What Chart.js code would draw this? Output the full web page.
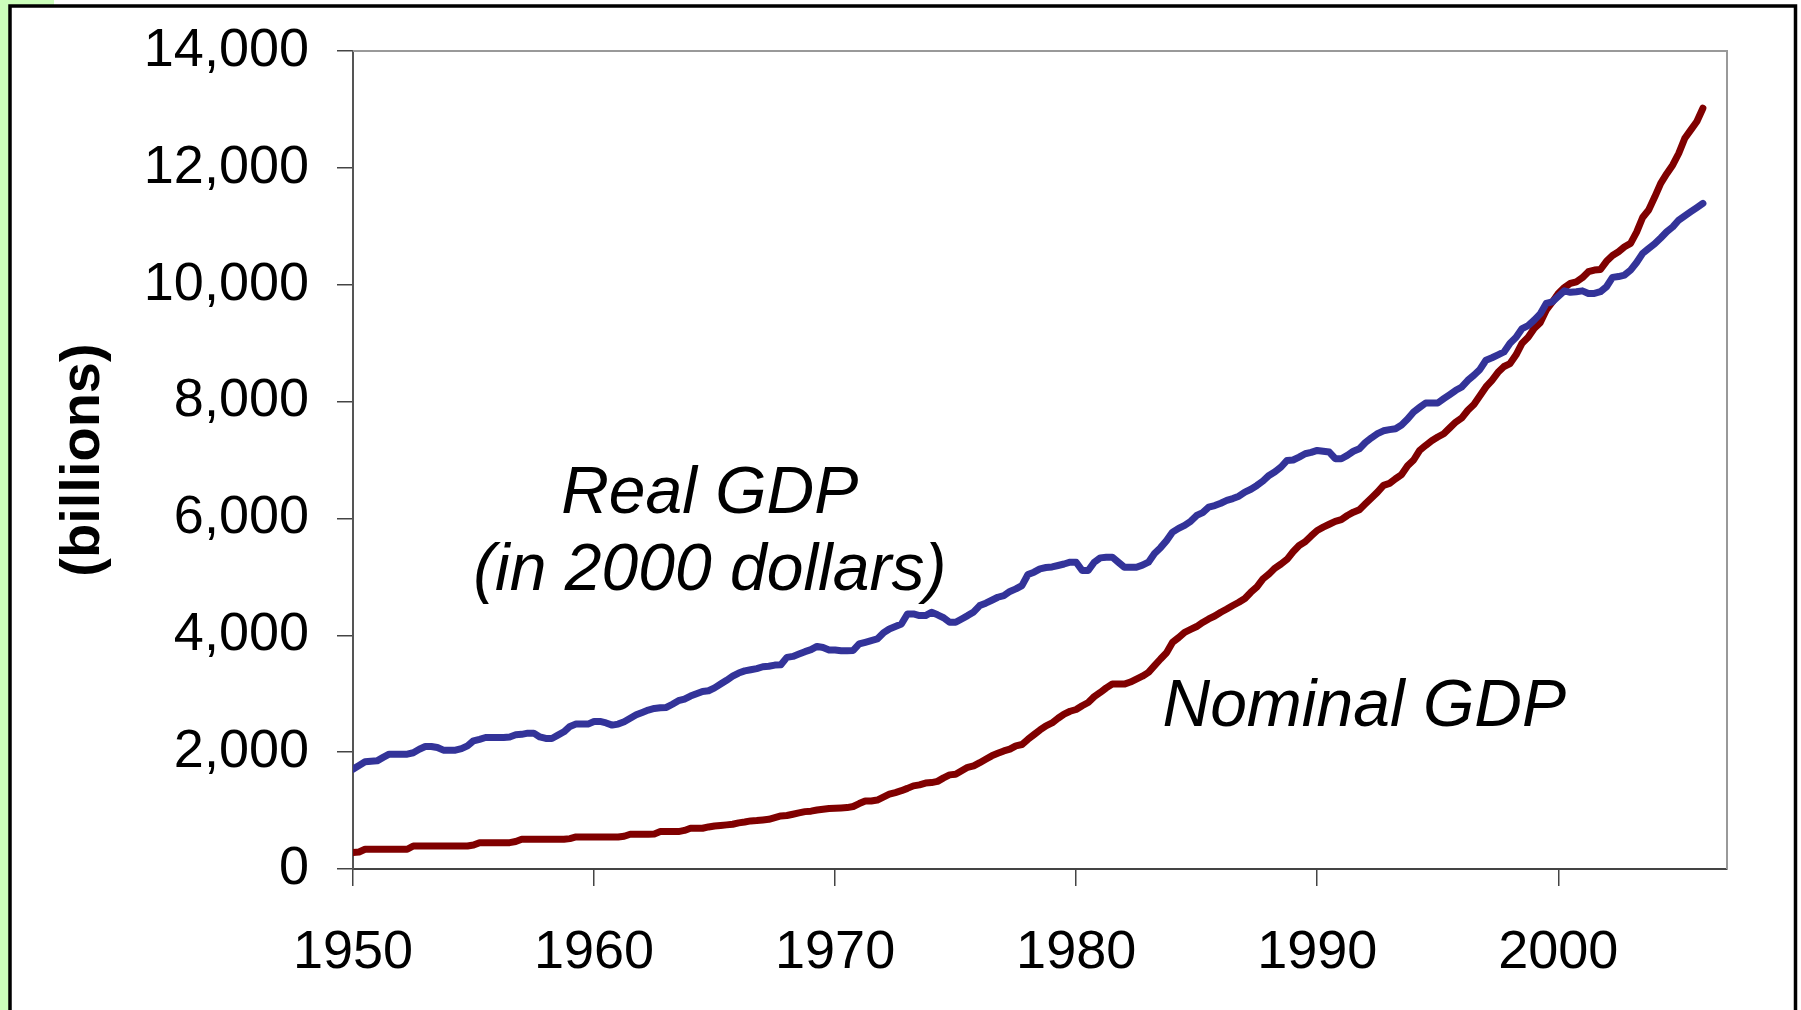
<!DOCTYPE html>
<html>
<head>
<meta charset="utf-8">
<title>Real and Nominal GDP</title>
<script src="https://cdn.jsdelivr.net/npm/chart.js@4.4.1/dist/chart.umd.min.js"></script>
<style>
  html, body { margin: 0; padding: 0; background: #fff; }
</style>
</head>
<body>
<canvas id="gdp" width="1801" height="1010"></canvas>
<script>
// quarterly series, 1950Q1 .. 2006Q1, billions of dollars
var firstYear = 1950;

// real GDP, chained 2000 dollars
var realGdp = [
  1709, 1770, 1834, 1845,   // 1950
  1851, 1910, 1966, 1966,   // 1951
  1966, 1966, 1990, 2050,   // 1952
  2096, 2096, 2080, 2034,   // 1953
  2034, 2034, 2060, 2108,   // 1954
  2194, 2220, 2251, 2251,   // 1955
  2251, 2251, 2260, 2297,   // 1956
  2305, 2325, 2325, 2260,   // 1957
  2234, 2234, 2290, 2348,   // 1958
  2440, 2480, 2480, 2480,   // 1959
  2525, 2525, 2500, 2463,   // 1960
  2480, 2520, 2580, 2640,   // 1961
  2680, 2720, 2748, 2760,   // 1962
  2765, 2820, 2880, 2908,   // 1963
  2960, 3000, 3039, 3051,   // 1964
  3100, 3165, 3230, 3300,   // 1965
  3354, 3390, 3410, 3430,   // 1966
  3462, 3470, 3490, 3497,   // 1967
  3622, 3639, 3680, 3720,   // 1968
  3754, 3810, 3790, 3748,   // 1969
  3748, 3737, 3737, 3740,   // 1970
  3851, 3880, 3910, 3937,   // 1971
  4040, 4108, 4150, 4194,   // 1972
  4365, 4365, 4337, 4337,   // 1973
  4394, 4350, 4300, 4222,   // 1974
  4222, 4280, 4337, 4400,   // 1975
  4508, 4550, 4600, 4651,   // 1976
  4680, 4750, 4794, 4851,   // 1977
  5040, 5080, 5137, 5160,   // 1978
  5170, 5194, 5220, 5251,   // 1979
  5251, 5108, 5108, 5250,   // 1980
  5325, 5337, 5337, 5250,   // 1981
  5165, 5165, 5165, 5200,   // 1982
  5251, 5400, 5500, 5620,   // 1983
  5766, 5830, 5880, 5950,   // 1984
  6051, 6100, 6194, 6220,   // 1985
  6260, 6308, 6340, 6380,   // 1986
  6451, 6500, 6565, 6640,   // 1987
  6736, 6800, 6880, 6993,   // 1988
  7000, 7050, 7107, 7130,   // 1989
  7164, 7150, 7136, 7022,   // 1990
  7022, 7080, 7150, 7193,   // 1991
  7300, 7380, 7450, 7500,   // 1992
  7520, 7536, 7600, 7700,   // 1993
  7822, 7900, 7975, 7975,   // 1994
  7975, 8050, 8120, 8193,   // 1995
  8250, 8364, 8450, 8550,   // 1996
  8707, 8750, 8800, 8850,   // 1997
  9000, 9100, 9250, 9300,   // 1998
  9393, 9500, 9679, 9708,   // 1999
  9800, 9895, 9870, 9880,   // 2000
  9895, 9851, 9851, 9880,   // 2001
  9965, 10125, 10140, 10165, // 2002
  10250, 10380, 10536, 10620, // 2003
  10700, 10800, 10907, 10990, // 2004
  11107, 11180, 11250, 11320, // 2005
  11393                       // 2006
];

// nominal GDP, current dollars
var nominalGdp = [
  280, 290, 337, 337,       // 1950
  337, 337, 337, 337,       // 1951
  337, 337, 394, 394,       // 1952
  394, 394, 394, 394,       // 1953
  394, 394, 394, 394,       // 1954
  410, 451, 451, 451,       // 1955
  451, 451, 451, 470,       // 1956
  508, 508, 508, 508,       // 1957
  508, 508, 508, 508,       // 1958
  520, 548, 548, 548,       // 1959
  548, 548, 548, 548,       // 1960
  548, 560, 594, 594,       // 1961
  594, 594, 600, 640,       // 1962
  640, 640, 640, 660,       // 1963
  697, 697, 697, 720,       // 1964
  737, 745, 755, 766,       // 1965
  790, 805, 823, 830,       // 1966
  840, 851, 880, 908,       // 1967
  915, 937, 960, 982,       // 1968
  990, 1010, 1023, 1035,    // 1969
  1040, 1045, 1051, 1070,   // 1970
  1120, 1165, 1165, 1180,   // 1971
  1230, 1280, 1308, 1340,   // 1972
  1380, 1423, 1440, 1470,   // 1973
  1479, 1500, 1560, 1611,   // 1974
  1620, 1680, 1740, 1765,   // 1975
  1820, 1880, 1937, 1980,   // 1976
  2020, 2051, 2108, 2130,   // 1977
  2220, 2300, 2380, 2451,   // 1978
  2500, 2580, 2651, 2700,   // 1979
  2730, 2794, 2850, 2950,   // 1980
  3022, 3100, 3165, 3165,   // 1981
  3165, 3200, 3250, 3300,   // 1982
  3365, 3480, 3594, 3700,   // 1983
  3879, 3960, 4051, 4100,   // 1984
  4150, 4220, 4280, 4330,   // 1985
  4394, 4450, 4510, 4565,   // 1986
  4630, 4737, 4830, 4966,   // 1987
  5050, 5150, 5220, 5300,   // 1988
  5430, 5537, 5600, 5700,   // 1989
  5794, 5850, 5900, 5950,   // 1990
  5980, 6050, 6107, 6150,   // 1991
  6250, 6350, 6450, 6565,   // 1992
  6600, 6679, 6750, 6900,   // 1993
  7000, 7164, 7250, 7330,   // 1994
  7393, 7450, 7550, 7650,   // 1995
  7720, 7851, 7950, 8100,   // 1996
  8250, 8364, 8500, 8600,   // 1997
  8650, 8800, 9000, 9100,   // 1998
  9250, 9350, 9565, 9700,   // 1999
  9850, 9950, 10022, 10050, // 2000
  10120, 10222, 10250, 10260, // 2001
  10400, 10500, 10565, 10650, // 2002
  10708, 10900, 11150, 11279, // 2003
  11500, 11736, 11900, 12050, // 2004
  12250, 12507, 12650, 12793, // 2005
  13021                       // 2006
];

var seriesNames = ['Real GDP', 'Nominal GDP'];
var noteLines = ['Real GDP', '(in 2000 dollars)', 'Nominal GDP'];

var FONT = "'Liberation Sans', Arial, Helvetica, sans-serif";

function toPoints(values) {
  return values.map(function (v, i) {
    return { x: firstYear + i / 4, y: v };
  });
}

// page frame: green strip, black box, grey plot edges
var framePlugin = {
  id: 'frame',
  beforeDraw: function (chart) {
    var c = chart.ctx;
    c.save();
    c.fillStyle = '#fff';
    c.fillRect(0, 0, chart.width, chart.height);
    c.fillStyle = '#ccffbb';
    c.fillRect(0, 0, 9, chart.height);
    c.fillRect(0, 0, 54, 5);
    c.strokeStyle = '#000';
    c.lineWidth = 3.5;
    c.beginPath();
    c.moveTo(10, chart.height + 5);
    c.lineTo(10, 6);
    c.lineTo(1795.5, 6);
    c.lineTo(1795.5, chart.height + 5);
    c.stroke();
    c.restore();
  },
  beforeDatasetsDraw: function (chart) {
    var a = chart.chartArea, c = chart.ctx;
    c.save();
    c.strokeStyle = '#999';
    c.lineWidth = 2;
    c.beginPath();
    c.moveTo(a.left, a.top);
    c.lineTo(a.right, a.top);
    c.lineTo(a.right, a.bottom);
    c.stroke();
    c.restore();
  }
};

// italic captions placed in data coordinates
var notes = [
  { line: 0, x: 1964.8, y: 6100 },
  { line: 1, x: 1964.8, y: 4780 },
  { line: 2, x: 1991.95, y: 2440 }
];
var notePlugin = {
  id: 'notes',
  afterDatasetsDraw: function (chart) {
    var c = chart.ctx, xs = chart.scales.x, ys = chart.scales.y;
    c.save();
    c.fillStyle = '#000';
    c.font = 'italic 66px ' + FONT;
    c.textAlign = 'center';
    c.textBaseline = 'alphabetic';
    notes.forEach(function (n) {
      c.fillText(noteLines[n.line], xs.getPixelForValue(n.x), ys.getPixelForValue(n.y));
    });
    c.restore();
  }
};

var ctx = document.getElementById('gdp').getContext('2d');
var gdpChart = new Chart(ctx, {
  type: 'line',
  data: {
    datasets: [{
      label: seriesNames[0],
      data: toPoints(realGdp),
      borderColor: '#333399',
      borderWidth: 7,
      pointRadius: 0,
      tension: 0,
      borderJoinStyle: 'round',
      borderCapStyle: 'round'
    }, {
      label: seriesNames[1],
      data: toPoints(nominalGdp),
      borderColor: '#800000',
      borderWidth: 7,
      pointRadius: 0,
      tension: 0,
      borderJoinStyle: 'round',
      borderCapStyle: 'round'
    }]
  },
  options: {
    responsive: false,
    animation: false,
    devicePixelRatio: 1,
    locale: 'en-US',
    layout: { padding: { left: 0, top: 51, right: 74, bottom: 0 } },
    plugins: {
      legend: { display: false },
      tooltip: { enabled: false }
    },
    scales: {
      x: {
        type: 'linear',
        min: 1950,
        max: 2007,
        afterFit: function (s) { s.height = 141; },
        ticks: {
          stepSize: 10,
          includeBounds: false,
          autoSkip: false,
          maxRotation: 0,
          padding: 35,
          color: '#000',
          font: { family: FONT, size: 54 },
          callback: function (v) { return String(v); }
        },
        grid: { drawOnChartArea: false, tickLength: 17, color: '#444', lineWidth: 1.5 },
        border: { color: '#444', width: 2 }
      },
      y: {
        min: 0,
        max: 14000,
        afterFit: function (s) {
          s.width = 353;
          s.paddingTop = 0;
          s.paddingBottom = 0;
        },
        ticks: {
          stepSize: 2000,
          padding: 28,
          color: '#000',
          font: { family: FONT, size: 54 }
        },
        grid: { drawOnChartArea: false, tickLength: 16, color: '#444', lineWidth: 1.5 },
        border: { color: '#555', width: 2 },
        title: {
          display: true,
          text: '(billions)',
          color: '#000',
          font: { family: FONT, size: 56, weight: 'bold' },
          padding: { top: 50, bottom: 0 }
        }
      }
    }
  },
  plugins: [framePlugin, notePlugin]
});
</script>
</body>
</html>
